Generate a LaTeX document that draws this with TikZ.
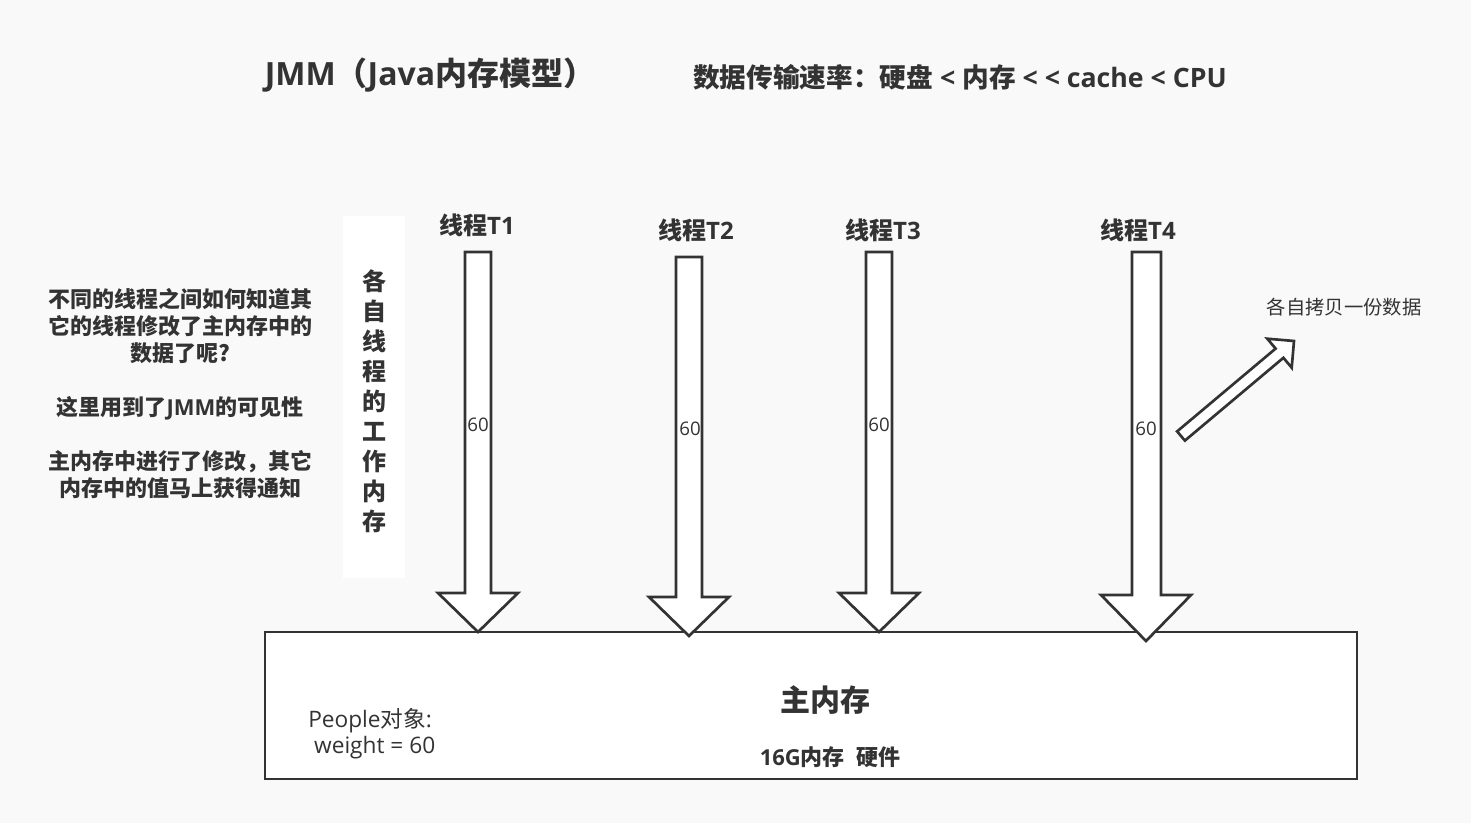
\documentclass[tikz,border=0pt]{standalone}
\usepackage{fontspec}
\setmainfont{Noto Sans CJK SC}
\newfontfamily\lat{Open Sans}
\usepackage{xcolor}
\definecolor{ink}{HTML}{333333}
\definecolor{paper}{HTML}{F9F9F9}

\tikzset{
  blockarrow/.style={draw=ink, fill=white, line width=2pt, line join=miter},
  lbl/.style={inner sep=0.75pt, text=ink},
}

\begin{document}
\begin{tikzpicture}[x=0.75pt,y=0.75pt,yscale=-1,xscale=1]
		% background and bounding box
		\fill [paper] (0,0) rectangle (1471,823);
		\useasboundingbox (0,0) rectangle (1471,823);
		% headings
		\node (title) [lbl, font=\fontsize{24}{28}\selectfont\bfseries] at (430,75) {{\lat JMM}（{\lat Java}内存模型）};
		\node (rate) [lbl, font=\fontsize{20}{24}\selectfont\bfseries] at (960,77) {数据传输速率：硬盘{\lat{} < }内存{\lat{} < < cache < CPU}};
		% left note
		\node (note) [lbl, align=center, font=\fontsize{16.5}{20.25}\selectfont\bfseries] at (180,394) {不同的线程之间如何知道其\\它的线程修改了主内存中的\\数据了呢?\\ \mbox{}\\这里用到了{\lat JMM}的可见性\\ \mbox{}\\主内存中进行了修改，其它\\内存中的值马上获得通知};
		% working memory label
		\fill [white] (343,216) rectangle (405,578);
		\node (work) [lbl, align=center, font=\fontsize{18}{22.5}\selectfont\bfseries] at (374,401) {各\\自\\线\\程\\的\\工\\作\\内\\存};
		% main memory
		\draw [ink, fill=white, line width=2pt] (265,632) rectangle (1357,779);
		\node (mem) [lbl, font=\fontsize{22.5}{27}\selectfont\bfseries] at (825,700) {主内存};
		\node (hw) [lbl, font=\fontsize{16.5}{19}\selectfont\bfseries] at (830,757) {{\lat 16G}内存{\lat\ \ }硬件};
		\node (obj) [lbl, align=left, anchor=north west, font=\fontsize{17}{19.5}\selectfont] at (307,707) {{\lat People}对象{\lat :}\\{\lat\ weight = 60}};
		% threads
		\node (t1) [lbl, font=\fontsize{18}{22}\selectfont\bfseries] at (477,225) {线程{\lat T1}};
		\node (t2) [lbl, font=\fontsize{18}{22}\selectfont\bfseries] at (696,230) {线程{\lat T2}};
		\node (t3) [lbl, font=\fontsize{18}{22}\selectfont\bfseries] at (883,230) {线程{\lat T3}};
		\node (t4) [lbl, font=\fontsize{18}{22}\selectfont\bfseries] at (1138,230) {线程{\lat T4}};
		\draw [blockarrow] (465,252) -- (491,252) -- (491,593) -- (518,593) -- (478,632) -- (438,593) -- (465,593) -- cycle;
		\draw [blockarrow] (676,257) -- (702,257) -- (702,597) -- (729,597) -- (689,636) -- (649,597) -- (676,597) -- cycle;
		\draw [blockarrow] (866,252) -- (892,252) -- (892,593) -- (919,593) -- (879,632) -- (839,593) -- (866,593) -- cycle;
		\draw [blockarrow] (1132,252) -- (1161,252) -- (1161,595) -- (1191,595) -- (1146,641) -- (1101,595) -- (1132,595) -- cycle;
		\node (v1) [lbl, font=\lat\fontsize{14}{16}\selectfont] at (478,425) {60};
		\node (v2) [lbl, font=\lat\fontsize{14}{16}\selectfont] at (690,429) {60};
		\node (v3) [lbl, font=\lat\fontsize{14}{16}\selectfont] at (879,425) {60};
		\node (v4) [lbl, font=\lat\fontsize{14}{16}\selectfont] at (1146,429) {60};
		% copy arrow
		\draw [blockarrow] (1184.9,440.6) -- (1283.4,357.8) -- (1291.7,367.7) -- (1294,341) -- (1267.3,338.7) -- (1275.6,348.6) -- (1177.1,431.4) -- cycle;
		\node (copy) [lbl, font=\fontsize{14.5}{18}\selectfont] at (1344,307) {各自拷贝一份数据};
		\end{tikzpicture}
\end{document}
